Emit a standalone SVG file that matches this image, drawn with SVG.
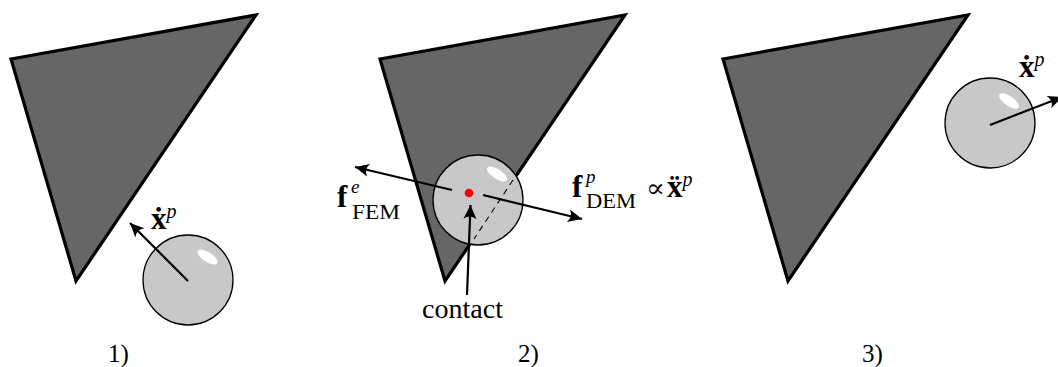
<svg xmlns="http://www.w3.org/2000/svg" width="1058" height="367" viewBox="0 0 1058 367">
<style>
.tri{fill:#666666;stroke:#000;stroke-width:3.2;stroke-linejoin:miter}
.sph{fill:#c8c8c8;stroke:#000;stroke-width:1.3}
.hl{fill:#fff}
.arr{fill:none;stroke:#000;stroke-width:2.2;marker-end:url(#ah)}
.dash{fill:none;stroke:#000;stroke-width:1.1;stroke-dasharray:6 5}
.t{font-family:"Liberation Serif","DejaVu Serif",serif;fill:#000}
.b{font-weight:bold}
.i{font-style:italic}
</style>
<defs>
<marker id="ah" markerUnits="userSpaceOnUse" viewBox="-15 -7 16 14" refX="0" refY="0" markerWidth="16" markerHeight="14" orient="auto">
<path d="M0,0 L-14,-6.5 Q-9,0 -14,6.5 Z" fill="#000"/>
</marker>
</defs>

<g id="panel1">
<g id="triangle1"><polygon class="tri" points="11,59 256,15 76,281"/></g>
<g id="sphere1">
<circle class="sph" cx="188" cy="280" r="45"/>
<ellipse class="hl" cx="207.5" cy="257" rx="11.5" ry="4.8" transform="rotate(33 207.5 257)"/>
</g>
<g id="label1"><text class="t" x="151" y="229" font-size="31"><tspan class="b">ẋ</tspan><tspan class="i" font-size="20" dy="-11">p</tspan></text></g>
<text class="t" x="108" y="362" font-size="25">1)</text>
</g>

<g id="panel2">
<g id="triangle2"><polygon class="tri" points="380,59 625,15 445,281"/></g>
<g id="sphere2">
<circle class="sph" cx="478" cy="200" r="45"/>
<line class="dash" x1="513" y1="180" x2="474" y2="239"/>
<ellipse class="hl" cx="497" cy="174" rx="11.5" ry="4.8" transform="rotate(33 497 174)"/>
<circle id="contactpoint" cx="469" cy="193" r="4.3" fill="#ff0000"/>
</g>
<g id="labelFEM"><text class="t b" x="337" y="207" font-size="31">f</text>
<text class="t i" x="351" y="193" font-size="19">e</text>
<text class="t" x="352" y="219" font-size="20" textLength="48" lengthAdjust="spacingAndGlyphs">FEM</text></g>
<g id="labelDEM"><text class="t b" x="572" y="197" font-size="31">f</text>
<text class="t i" x="586" y="183" font-size="19">p</text>
<text class="t" x="586" y="208" font-size="20" textLength="50" lengthAdjust="spacingAndGlyphs">DEM</text>
<text class="t" x="646" y="197" font-size="26" textLength="19" lengthAdjust="spacingAndGlyphs">∝</text>
<text class="t" x="667" y="197" font-size="31"><tspan class="b">ẍ</tspan><tspan class="i" font-size="20" dy="-11">p</tspan></text></g>
<g id="labelContact"><text class="t" x="422" y="318" font-size="27" textLength="81" lengthAdjust="spacingAndGlyphs">contact</text></g>
<text class="t" x="518" y="362" font-size="25">2)</text>
</g>

<g id="panel3">
<g id="triangle3"><polygon class="tri" points="723,59 968,15 788,281"/></g>
<g id="sphere3">
<circle class="sph" cx="990" cy="123" r="45"/>
<ellipse class="hl" cx="1009" cy="101" rx="11.5" ry="4.8" transform="rotate(35 1009 101)"/>
</g>
<g id="label3"><text class="t" x="1019" y="77" font-size="31"><tspan class="b">ẋ</tspan><tspan class="i" font-size="20" dy="-11">p</tspan></text></g>
<text class="t" x="862" y="362" font-size="25">3)</text>
</g>

<g id="connectors">
<line class="arr" x1="188" y1="281" x2="130" y2="223"/>
<line class="arr" x1="452" y1="190" x2="355" y2="167"/>
<line class="arr" x1="483" y1="195" x2="582" y2="219"/>
<line class="arr" x1="467" y1="295" x2="470.5" y2="205"/>
<line class="arr" x1="990" y1="125" x2="1062" y2="97"/>
</g>
</svg>
